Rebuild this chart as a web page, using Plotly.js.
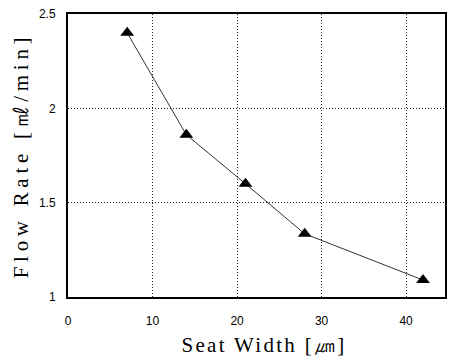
<!DOCTYPE html>
<html>
<head>
<meta charset="utf-8">
<script src="https://cdn.plot.ly/plotly-3.0.1.min.js"></script>
<style>
html,body{margin:0;padding:0;background:#fff;}
text.ytitle{letter-spacing:4.7px;}
text.xtitle{letter-spacing:2.3px;white-space:pre;}
</style>
</head>
<body>
<div id="chart" style="width:451px;height:361px;"></div>
<script>
const seatWidth = [7, 14, 21, 28, 42];
const flowRate = [2.4, 1.86, 1.6, 1.335, 1.09];
const xTicks = [0, 10, 20, 30, 40];
const yTicks = [1, 1.5, 2, 2.5];
const yTickLabels = ['1', '1.5', '2', '2.5'];
const xTitle = '<span style="fill:rgba(0,0,0,0)">..</span>Seat Width [㎛]';
const yTitle = 'Flow Rate [㎖/min]';

const trace = {
  x: seatWidth,
  y: flowRate,
  mode: 'lines+markers',
  type: 'scatter',
  line: {color: '#333', width: 1},
  marker: {symbol: 'triangle-up', size: 12, color: '#000'},
  showlegend: false
};

const layout = {
  width: 451, height: 361,
  margin: {l: 68, r: 6, t: 14, b: 64},
  paper_bgcolor: '#fff', plot_bgcolor: '#fff',
  font: {family: 'Liberation Sans, Arial, sans-serif', color: '#000', size: 12},
  xaxis: {
    range: [0, 44.6],
    tickvals: xTicks,
    ticktext: xTicks.map(String),
    showgrid: true, gridcolor: '#222', griddash: '1px,2px', gridwidth: 1,
    showline: true, linecolor: '#000', linewidth: 2, mirror: true,
    zeroline: false, ticks: '', ticklabelstandoff: 12,
    title: {text: xTitle, font: {family: 'Liberation Serif, Times New Roman, serif', size: 21}, standoff: 10}
  },
  yaxis: {
    range: [1, 2.5],
    tickvals: yTicks,
    ticktext: yTickLabels,
    showgrid: true, gridcolor: '#222', griddash: '1px,2px', gridwidth: 1,
    showline: true, linecolor: '#000', linewidth: 2, mirror: true,
    zeroline: false, ticks: '', ticklabelstandoff: 8,
    title: {text: yTitle, font: {family: 'Liberation Serif, Times New Roman, serif', size: 21}, standoff: 5}
  }
};

Plotly.newPlot('chart', [trace], layout, {displayModeBar: false, staticPlot: true});
</script>
</body>
</html>
